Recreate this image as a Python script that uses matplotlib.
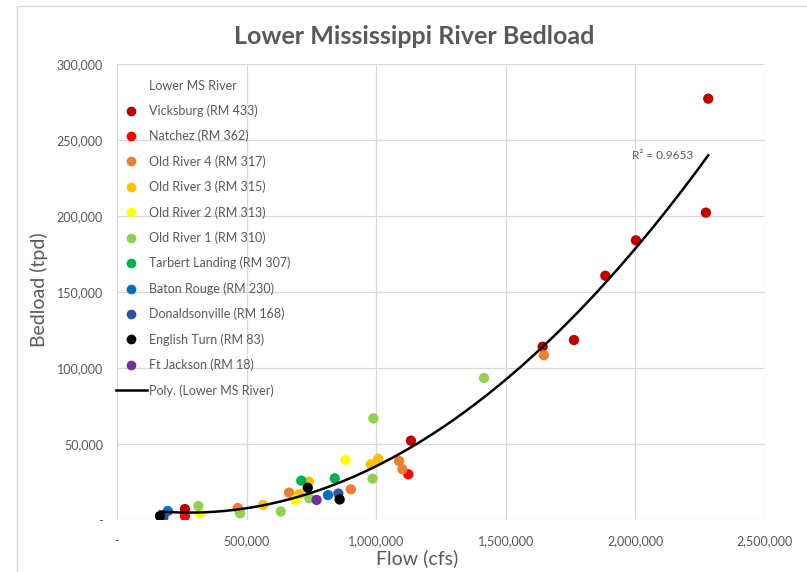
import numpy as np
import matplotlib
matplotlib.use("Agg")
import matplotlib.pyplot as plt
from matplotlib.lines import Line2D
from matplotlib.patches import Rectangle
from matplotlib.ticker import FuncFormatter

plt.rcParams['font.family'] = ['Lato', 'DejaVu Sans']

# Flow (cfs) and bedload (tpd) observations per gauging station
vicksburg_flow = [2281000, 2272000, 2002000, 1884000, 1763000, 1642000, 1134000, 262000]
vicksburg_load = [277200, 202200, 184000, 160700, 118400, 114000, 52200, 7200]
natchez_flow = [1124000, 262000]
natchez_load = [30100, 2600]
oldriver4_flow = [1647000, 1088000, 1101000, 902000, 664000, 466000]
oldriver4_load = [108400, 38800, 33400, 20200, 18000, 7900]
oldriver3_flow = [1008000, 979000, 564000, 740000, 703000]
oldriver3_load = [40300, 36600, 9900, 25200, 17100]
oldriver2_flow = [882000, 688000, 320000]
oldriver2_load = [39500, 13200, 4400]
oldriver1_flow = [1416000, 989000, 986000, 742000, 632000, 475000, 314000]
oldriver1_load = [93400, 66800, 27200, 14300, 5600, 4400, 9200]
tarbert_flow = [711000, 840000]
tarbert_load = [25900, 27400]
batonrouge_flow = [814000, 196000]
batonrouge_load = [16400, 5900]
donaldsonville_flow = [854000, 179000]
donaldsonville_load = [17400, 1800]
englishturn_flow = [736000, 859000, 166000]
englishturn_load = [21200, 13500, 2600]
ftjackson_flow = [770000]
ftjackson_load = [13200]

stations = [
    ("Vicksburg (RM 433)", vicksburg_flow, vicksburg_load, "#C00000"),
    ("Natchez (RM 362)", natchez_flow, natchez_load, "#FF0000"),
    ("Old River 4 (RM 317)", oldriver4_flow, oldriver4_load, "#ED7D31"),
    ("Old River 3 (RM 315)", oldriver3_flow, oldriver3_load, "#FFC000"),
    ("Old River 2 (RM 313)", oldriver2_flow, oldriver2_load, "#FFFF00"),
    ("Old River 1 (RM 310)", oldriver1_flow, oldriver1_load, "#92D050"),
    ("Tarbert Landing (RM 307)", tarbert_flow, tarbert_load, "#00B050"),
    ("Baton Rouge (RM 230)", batonrouge_flow, batonrouge_load, "#0070C0"),
    ("Donaldsonville (RM 168)", donaldsonville_flow, donaldsonville_load, "#2F5597"),
    ("English Turn (RM 83)", englishturn_flow, englishturn_load, "#000000"),
    ("Ft Jackson (RM 18)", ftjackson_flow, ftjackson_load, "#7030A0"),
]

x_ticks = [0, 500000, 1000000, 1500000, 2000000, 2500000]
y_ticks = [0, 50000, 100000, 150000, 200000, 250000, 300000]
r2_label = "R² = 0.9653"

W, H = 807, 572
fig = plt.figure(figsize=(W / 100, H / 100), dpi=100)
fig.patch.set_facecolor("white")

# chart outer border
fig.patches.append(Rectangle((17 / W, -0.05), 1.2, 1 - 6 / H + 0.05,
                             transform=fig.transFigure, fill=False,
                             edgecolor="#D9D9D9", linewidth=1.0))

ax = fig.add_axes([117 / W, 1 - 520 / H, (765 - 117) / W, (520 - 64) / H])
ax.set_xlim(0, 2500000)
ax.set_ylim(0, 300000)
ax.set_xticks(x_ticks)
ax.set_yticks(y_ticks)
ax.grid(True, color="#D9D9D9", linewidth=0.9)
ax.set_axisbelow(True)
for s in ax.spines.values():
    s.set_visible(False)

fmt = FuncFormatter(lambda v, p: "-" if v == 0 else f"{v:,.0f}")
ax.xaxis.set_major_formatter(fmt)
ax.yaxis.set_major_formatter(fmt)
ax.tick_params(length=0, labelsize=9, colors="#595959", pad=10)
ax.tick_params(axis="x", pad=11)

handles = [Line2D([], [], linestyle="none", marker=None, label="Lower MS River")]
for name, fx, fy, col in stations:
    ax.scatter(fx, fy, s=55, color=col, edgecolors="none", zorder=3)
    handles.append(Line2D([], [], linestyle="none", marker="o", markersize=7,
                          markerfacecolor=col, markeredgecolor="none", label=name))

# second-order polynomial trendline over all observations
all_x = np.concatenate([np.array(s[1], float) for s in stations])
all_y = np.concatenate([np.array(s[2], float) for s in stations])
coef = np.polyfit(all_x, all_y, 2)
xs = np.linspace(all_x.min(), all_x.max(), 300)
ax.plot(xs, np.polyval(coef, xs), color="black", linewidth=1.8, zorder=4)
handles.append(Line2D([], [], color="black", linewidth=1.8, label="Poly. (Lower MS River)"))

ax.text(1985000, 239500, r2_label, fontsize=8.5, color="#595959", ha="left", va="center")

leg = ax.legend(handles=handles, loc="upper left", bbox_to_anchor=(-0.002, 0.966),
                frameon=False, fontsize=9, labelcolor="#595959",
                handlelength=2.5, handletextpad=0.2, labelspacing=1.03,
                borderaxespad=0, borderpad=0)

ax.set_xlabel("Flow (cfs)", fontsize=14, color="#595959")
ax.xaxis.set_label_coords(0.463, -0.064)
ax.set_ylabel("Bedload (tpd)", fontsize=14, color="#595959")
ax.yaxis.set_label_coords(-0.107, 0.505)
fig.text(414 / W, 1 - 37 / H, "Lower Mississippi River Bedload", fontsize=18,
         fontweight="bold", color="#595959", ha="center", va="center")

fig.savefig("out.png", dpi=100)
